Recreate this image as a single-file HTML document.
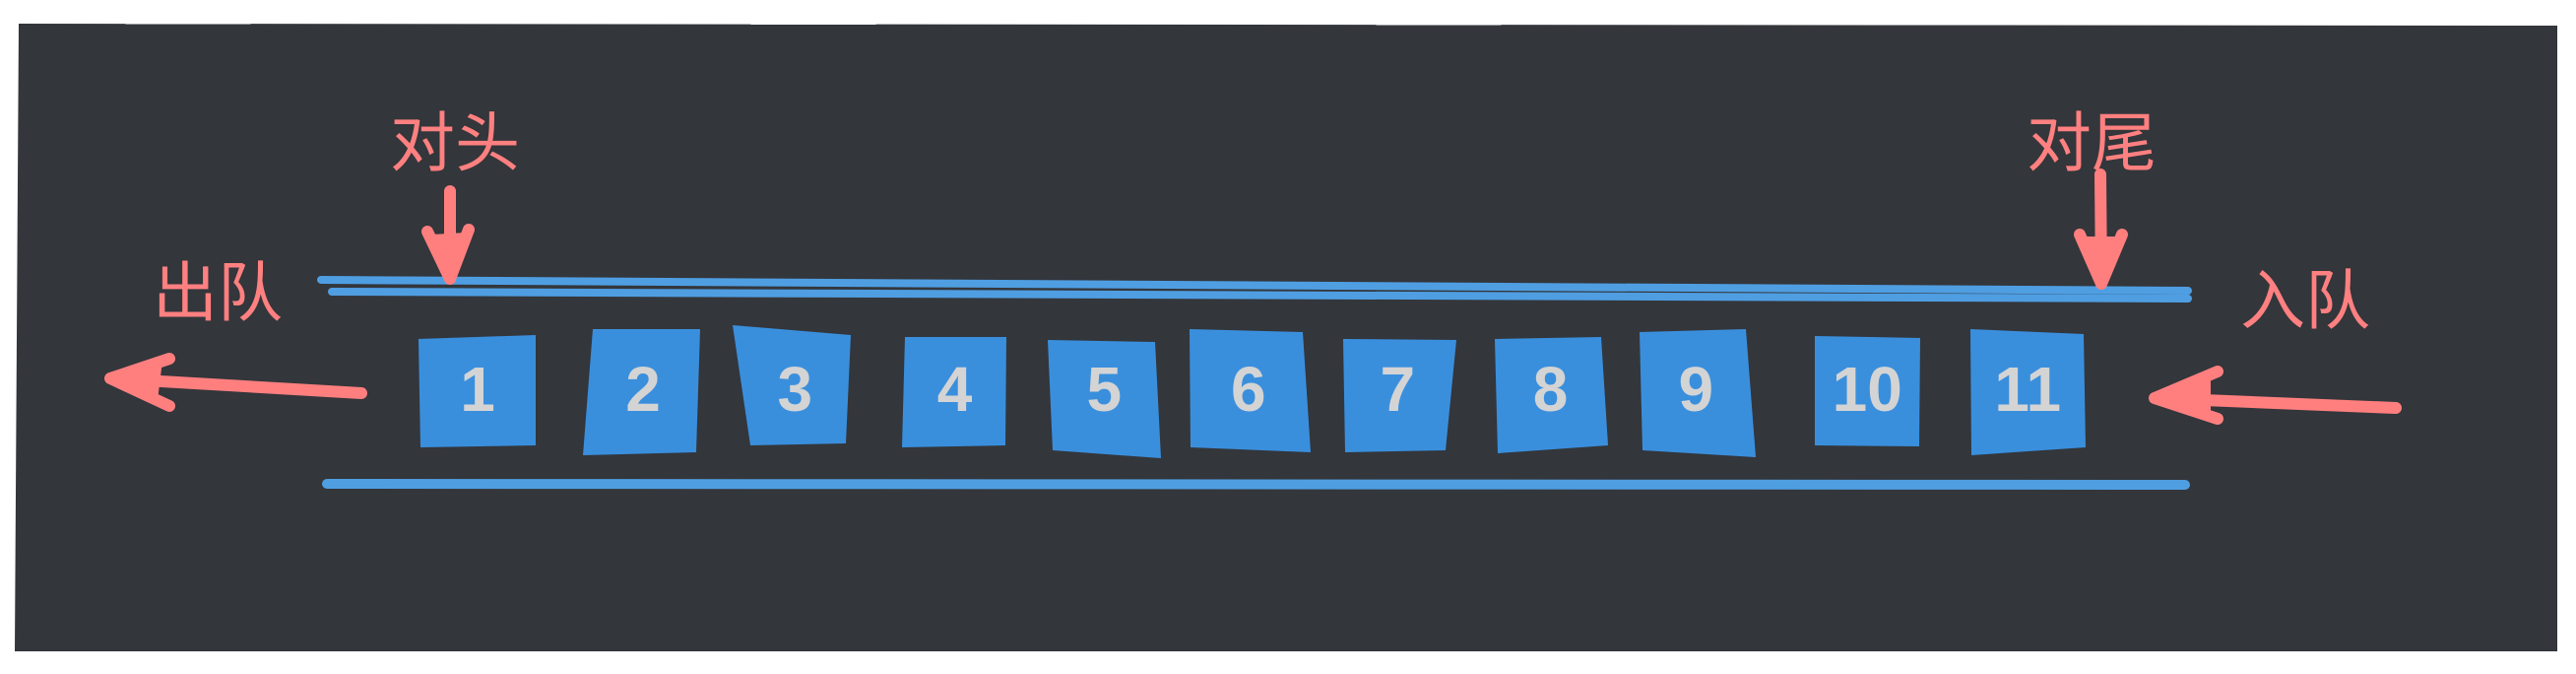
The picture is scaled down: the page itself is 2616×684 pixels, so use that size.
<!DOCTYPE html>
<html><head><meta charset="utf-8"><style>
html,body{margin:0;padding:0;background:#fff;}
svg{display:block;}
text{font-family:"Liberation Sans","Noto Sans CJK SC",sans-serif;}
</style></head><body>
<svg width="2616" height="684" viewBox="0 0 2616 684">
<polygon points="19,24 2597,26 2597,661 15,661" fill="#33363b"/>
<g stroke="#4f9ee2" stroke-width="8" stroke-linecap="round">
<line x1="326" y1="284" x2="2222" y2="295"/>
<line x1="337" y1="296" x2="2222" y2="303"/>
<line x1="332" y1="491" x2="2219" y2="492" stroke-width="10"/>
</g>
<g id="boxes"></g>
<g stroke="#ff7f7f" stroke-width="12" stroke-linecap="round" stroke-linejoin="round" fill="none">
<path d="M367,399 L112,384 M112,384 L172,364 M112,384 L172,412"/>
<path d="M2433,414 L2188,404 M2188,404 L2252,377 M2188,404 L2252,425"/>
<path d="M457,194 L457,283 M457,283 L434,235 M457,283 L476,233"/>
<path d="M2133,177 L2134,288 M2134,288 L2112,238 M2134,288 L2155,238"/>
</g>
<g fill="#ff7f7f">
<polygon points="112,384 165,366 160,406"/>
<polygon points="2188,404 2245,380 2245,422"/>
<polygon points="457,283 438,238 474,236"/>
<polygon points="2134,288 2115,240 2152,240"/>
</g>
<g fill="#ff8080" font-size="66">
<text x="396" y="168">对头</text>
<text x="155" y="320">出队</text>
<text x="2058" y="168">对尾</text>
<text x="2275" y="328">入队</text>
</g>
</svg>
<script>
const labels = ["1","2","3","4","5","6","7","8","9","10","11"];
const shapes = [
[[425,344],[544,340],[544,452],[427,454]],
[[602,334],[711,334],[707,459],[592,462]],
[[744,330],[864,340],[859,450],[762,452]],
[[919,342],[1022,342],[1021,452],[916,454]],
[[1064,345],[1173,347],[1179,465],[1069,457]],
[[1208,334],[1323,337],[1331,459],[1209,454]],
[[1364,344],[1479,345],[1468,457],[1366,459]],
[[1518,344],[1626,342],[1633,452],[1521,460]],
[[1665,337],[1773,334],[1783,464],[1668,457]],
[[1843,341],[1950,343],[1949,453],[1843,452]],
[[2001,334],[2116,339],[2118,454],[2002,462]]
];
const NS="http://www.w3.org/2000/svg";
const g=document.getElementById('boxes');
labels.forEach((lab,i)=>{
  const p=shapes[i];
  const poly=document.createElementNS(NS,'polygon');
  poly.setAttribute('points',p.map(q=>q.join(',')).join(' '));
  poly.setAttribute('fill','#3a8fdd');
  
  
  g.appendChild(poly);
  const cx=(p[0][0]+p[1][0]+p[2][0]+p[3][0])/4;
  const t=document.createElementNS(NS,'text');
  t.setAttribute('x',cx);
  t.setAttribute('y',417);
  t.setAttribute('text-anchor','middle');
  t.setAttribute('font-size','64');
  t.setAttribute('font-weight','bold');
  t.setAttribute('fill','#d4d4d4');
  t.textContent=lab;
  
  
  g.appendChild(t);
});
</script>
</body></html>
